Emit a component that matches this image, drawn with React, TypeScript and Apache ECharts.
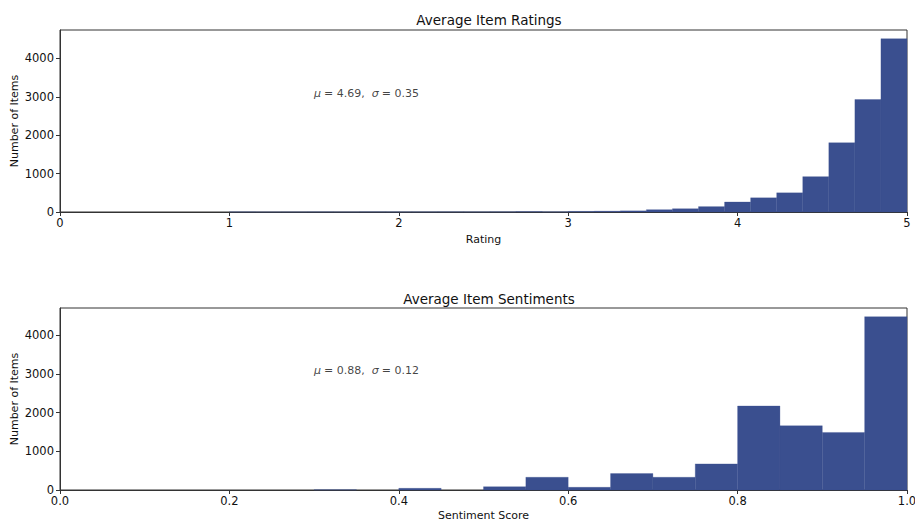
import React, { useEffect, useRef } from "react";
import * as echarts from "echarts";

// Ratings histogram: 26 bins spanning 1..5
const ratingRange = [1, 5];
const ratingCounts = [2, 1, 1, 2, 1, 3, 2, 2, 3, 2, 4, 10, 3, 15, 20, 30, 60, 85, 140, 260, 370, 500, 920, 1805, 2930, 4515];
// Sentiment histogram: 20 bins spanning 0..1
const sentimentRange = [0, 1];
const sentimentCounts = [0, 0, 0, 0, 0, 0, 5, 0, 43, 0, 86, 328, 69, 423, 328, 674, 2168, 1658, 1485, 4474];

const ratingTicks = [0, 1, 2, 3, 4, 5];
const sentimentTicks = [0, 0.2, 0.4, 0.6, 0.8, 1.0];
const countTicks = [0, 1000, 2000, 3000, 4000];

const ratingStats = { mu: "4.69", sigma: "0.35", x: 1.5, y: 3000 };
const sentimentStats = { mu: "0.88", sigma: "0.12", x: 0.3, y: 3000 };

const BAR = "#3a4f8f";
const FONT = "DejaVu Sans";

function bins(range: number[], counts: number[]) {
  const w = (range[1] - range[0]) / counts.length;
  return counts.map((c, i) => [range[0] + i * w, range[0] + (i + 1) * w, c]);
}

export default function App() {
  const ref = useRef<HTMLDivElement>(null);
  useEffect(() => {
    document.body.style.margin = "0";
    const chart = echarts.init(ref.current!, undefined, { renderer: "svg" });
    const renderItem = (params: any, api: any) => {
      const x0 = api.value(0), x1 = api.value(1), y = api.value(2);
      if (!y) return null;
      const p0 = api.coord([x0, y]);
      const p1 = api.coord([x1, 0]);
      return {
        type: "rect",
        shape: { x: p0[0], y: p0[1], width: p1[0] - p0[0], height: p1[1] - p0[1] },
        style: { fill: BAR, stroke: BAR, lineWidth: 0.3 },
      };
    };
    const xAxisBase = (min: number, max: number, interval: number, name: string, gi: number, dec: number, gap: number) => ({
      type: "value",
      gridIndex: gi,
      min,
      max,
      interval,
      name,
      nameLocation: "middle",
      nameGap: gap,
      nameMoveOverlap: false,
      nameTextStyle: { fontFamily: FONT, fontSize: 11, color: "#111" },
      axisLine: { show: true, lineStyle: { color: "#333", width: 1 } },
      axisTick: { show: true, length: 4, lineStyle: { color: "#333" } },
      axisLabel: { fontFamily: FONT, fontSize: 11.5, color: "#111", margin: 5, formatter: (v: number) => v.toFixed(dec) },
      splitLine: { show: false },
    });
    const yAxisBase = (max: number, gi: number) => ({
      type: "value",
      gridIndex: gi,
      min: 0,
      max,
      interval: 1000,
      name: "Number of Items",
      nameLocation: "middle",
      nameRotate: 90,
      nameGap: 40,
      nameMoveOverlap: false,
      nameTextStyle: { fontFamily: FONT, fontSize: 11, color: "#111" },
      axisLine: { show: true, lineStyle: { color: "#333", width: 1 } },
      axisTick: { show: true, length: 4, lineStyle: { color: "#333" } },
      axisLabel: {
        fontFamily: FONT, fontSize: 11.5, color: "#111", margin: 6, showMaxLabel: false,
        formatter: (v: number) => (countTicks.includes(v) ? String(v) : ""),
      },
      splitLine: { show: false },
    });
    const statLabel = (s: any, gi: number) => ({
      type: "scatter",
      xAxisIndex: gi,
      yAxisIndex: gi,
      symbolSize: 0,
      data: [[s.x, s.y]],
      silent: true,
      label: {
        show: true,
        position: "right",
        distance: 0,
        offset: [0, -3],
        formatter: `{i|μ}{n|= ${s.mu},  }{i|σ}{n|= ${s.sigma}}`,
        rich: {
          i: { fontFamily: FONT, fontSize: 11, fontStyle: "italic", color: "#111", padding: [0, 3, 0, 0] },
          n: { fontFamily: FONT, fontSize: 11, color: "#111" },
        },
      },
    });
    const rMax = Math.max(...ratingCounts) * 1.05;
    const sMax = Math.max(...sentimentCounts) * 1.05;
    const titleStyle = { fontFamily: FONT, fontSize: 13.5, fontWeight: "normal", color: "#111" };
    chart.setOption({
      animation: false,
      title: [
        { text: "Average Item Ratings", left: 484, top: 8, textAlign: "center", textStyle: titleStyle },
        { text: "Average Item Sentiments", left: 484, top: 287, textAlign: "center", textStyle: titleStyle },
      ],
      grid: [
        { left: 60, right: 8, top: 30, height: 182, show: true, borderColor: "#333", borderWidth: 1, containLabel: false, outerBoundsMode: "none" },
        { left: 60, right: 8, top: 308, height: 182, show: true, borderColor: "#333", borderWidth: 1, containLabel: false, outerBoundsMode: "none" },
      ],
      xAxis: [
        xAxisBase(ratingTicks[0], ratingTicks[ratingTicks.length - 1], 1, "Rating", 0, 0, 22),
        xAxisBase(sentimentTicks[0], sentimentTicks[sentimentTicks.length - 1], 0.2, "Sentiment Score", 1, 1, 20),
      ],
      yAxis: [yAxisBase(rMax, 0), yAxisBase(sMax, 1)],
      series: [
        { type: "custom", xAxisIndex: 0, yAxisIndex: 0, renderItem, encode: { x: [0, 1], y: 2 }, data: bins(ratingRange, ratingCounts) },
        { type: "custom", xAxisIndex: 1, yAxisIndex: 1, renderItem, encode: { x: [0, 1], y: 2 }, data: bins(sentimentRange, sentimentCounts) },
        statLabel(ratingStats, 0),
        statLabel(sentimentStats, 1),
      ],
    });
    return () => chart.dispose();
  }, []);
  return <div ref={ref} style={{ width: 915, height: 522 }} />;
}
